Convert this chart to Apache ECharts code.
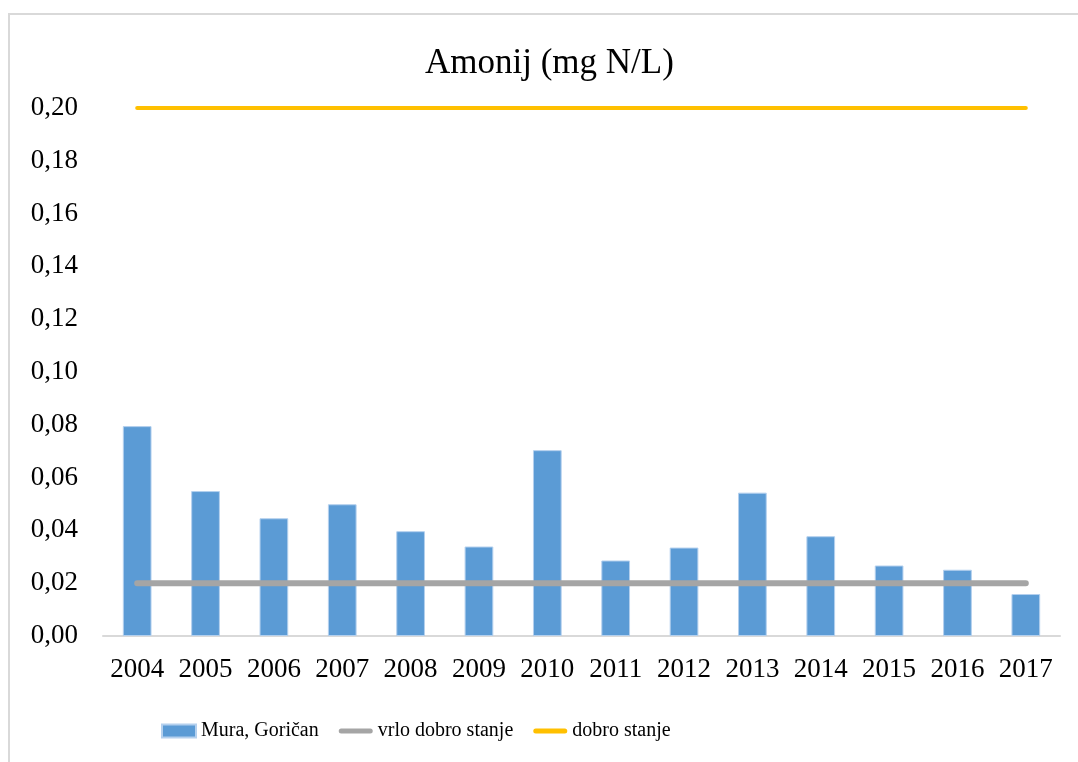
<!DOCTYPE html>
<html>
<head>
<meta charset="utf-8">
<title>Amonij (mg N/L)</title>
<script src="https://cdn.jsdelivr.net/npm/echarts@6/dist/echarts.min.js"></script>
<style>
    html, body {
        margin: 0;
        padding: 0;
        background: #fff;
        overflow: hidden;
    }

    .frame {
        position: absolute;
        left: 8px;
        top: 13px;
        width: 1200px;
        height: 900px;
        border-left: 2px solid #d9d9d9;
        border-top: 2px solid #d9d9d9;
    }

    #chart {
        position: absolute;
        left: 0;
        top: 0;
        width: 1078px;
        height: 762px;
    }
</style>
</head>
<body>
<div class="frame"></div>
<div id="chart"></div>
<script>
// 数据
const years = ['2004', '2005', '2006', '2007', '2008', '2009', '2010', '2011', '2012', '2013', '2014', '2015', '2016', '2017']
const muraGorican = [0.0795, 0.0549, 0.0446, 0.0499, 0.0397, 0.0339, 0.0704, 0.0286, 0.0335, 0.0543, 0.0378, 0.0267, 0.0251, 0.0159]
const vrloDobroStanje = [0.02, 0.02, 0.02, 0.02, 0.02, 0.02, 0.02, 0.02, 0.02, 0.02, 0.02, 0.02, 0.02, 0.02]
const dobroStanje = [0.2, 0.2, 0.2, 0.2, 0.2, 0.2, 0.2, 0.2, 0.2, 0.2, 0.2, 0.2, 0.2, 0.2]

const serif = "'Liberation Serif', 'Times New Roman', serif"

// 图例里的线条图标
const lineIcon = 'path://M2.5,0 L31.5,0 A2.5,2.5 0 0 1 31.5,5 L2.5,5 A2.5,2.5 0 0 1 2.5,0 Z'

const chart = echarts.init(document.getElementById('chart'))

const option = {
    backgroundColor: 'transparent',
    animation: false,
    title: {
        text: 'Amonij (mg N/L)',
        left: 425,
        top: 46,
        padding: 0,
        textStyle: {
            fontFamily: serif,
            fontSize: 35,
            fontWeight: 'normal',
            color: '#000'
        }
    },
    legend: {
        left: 161,
        top: 721,
        padding: 0,
        itemWidth: 34,
        itemHeight: 13,
        itemGap: 20,
        symbolKeepAspect: true,
        textStyle: {
            fontFamily: serif,
            fontSize: 20,
            color: '#000'
        },
        data: [
            { name: 'Mura, Goričan', icon: 'rect' },
            { name: 'vrlo dobro stanje', icon: lineIcon },
            { name: 'dobro stanje', icon: lineIcon }
        ]
    },
    grid: {
        left: 103,
        right: 18,
        top: 108,
        bottom: 126
    },
    xAxis: {
        type: 'category',
        data: years,
        axisLine: {
            lineStyle: { color: '#d9d9d9', width: 2 }
        },
        axisTick: { show: false },
        axisLabel: {
            interval: 0,
            fontFamily: serif,
            fontSize: 27,
            color: '#000',
            margin: 20
        }
    },
    yAxis: {
        type: 'value',
        min: 0,
        max: 0.2,
        interval: 0.02,
        axisLine: { show: false },
        axisTick: { show: false },
        splitLine: { show: false },
        axisLabel: {
            fontFamily: serif,
            fontSize: 27,
            color: '#000',
            margin: 25,
            formatter: (v) => v.toFixed(2).replace('.', ',')
        }
    },
    series: [
        {
            name: 'Mura, Goričan',
            type: 'bar',
            data: muraGorican,
            barWidth: '42%',
            itemStyle: {
                color: '#5b9bd5',
                borderColor: '#b4d0ee',
                borderWidth: 1
            }
        },
        {
            name: 'vrlo dobro stanje',
            type: 'line',
            data: vrloDobroStanje,
            symbol: 'none',
            lineStyle: { color: '#a5a5a5', width: 6, cap: 'round' },
            itemStyle: { color: '#a5a5a5' }
        },
        {
            name: 'dobro stanje',
            type: 'line',
            data: dobroStanje,
            symbol: 'none',
            lineStyle: { color: '#ffc000', width: 4, cap: 'round' },
            itemStyle: { color: '#ffc000' }
        }
    ]
}

chart.setOption(option)
</script>
</body>
</html>
